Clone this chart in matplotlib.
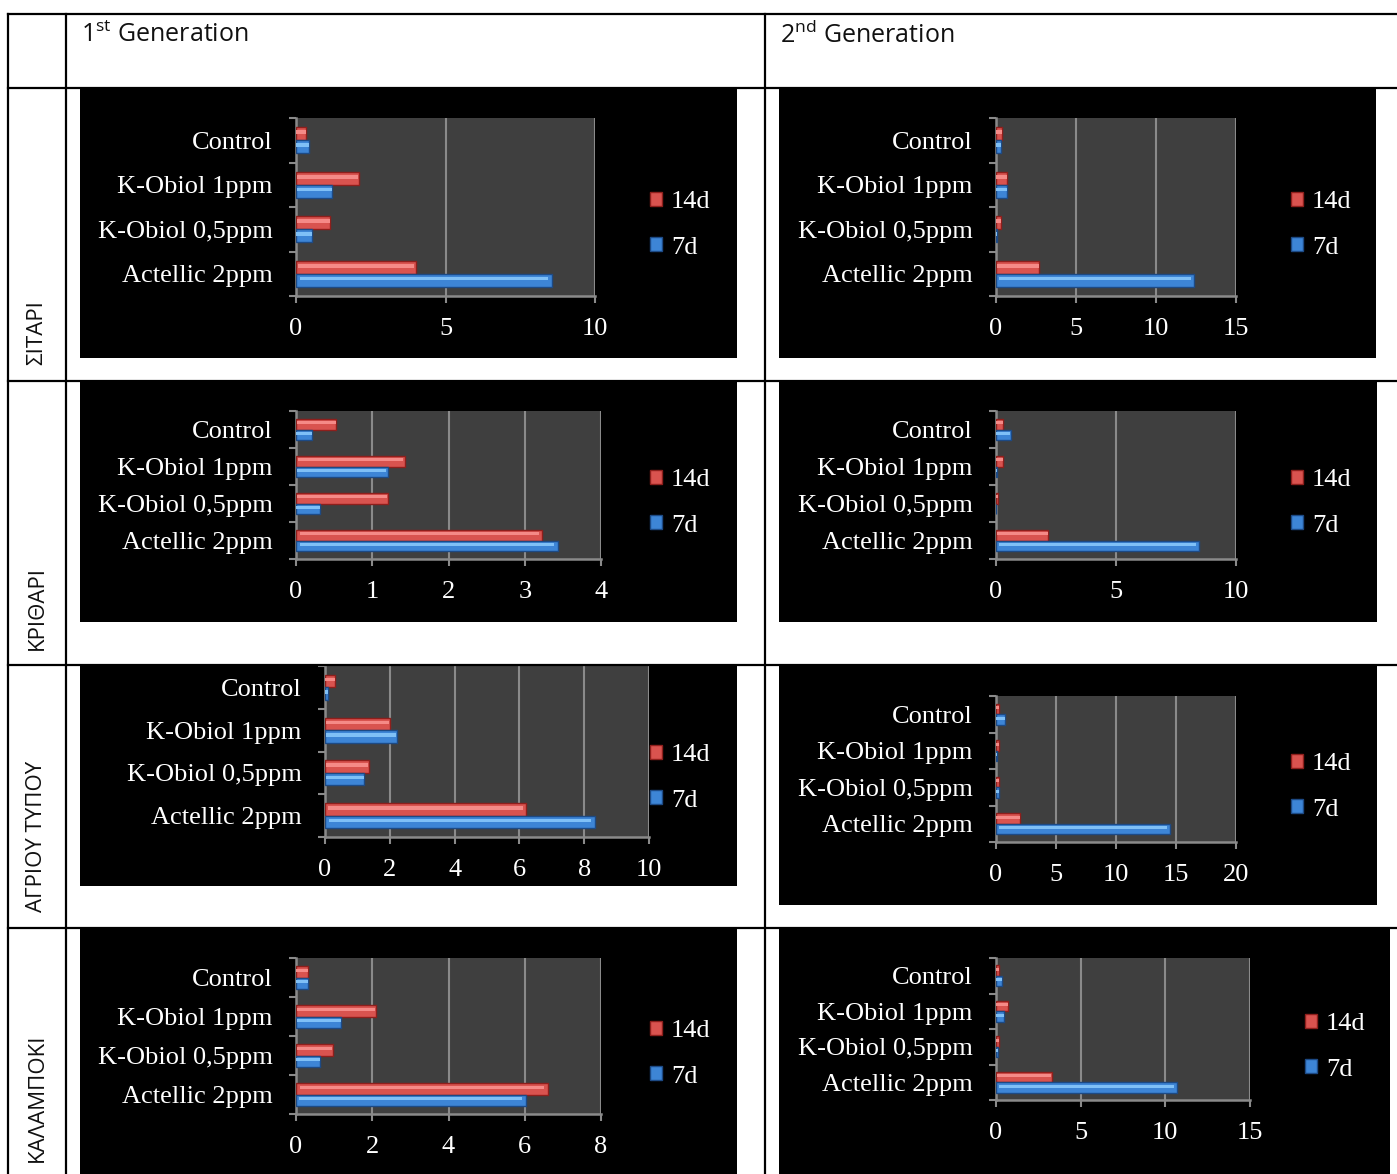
import matplotlib
matplotlib.use("Agg")
import matplotlib.pyplot as plt
from matplotlib.lines import Line2D
from matplotlib.patches import Patch

plt.rcParams["mathtext.fontset"] = "custom"
plt.rcParams["mathtext.rm"] = "Open Sans"

W, H = 1397, 1174

# ── data ──
cats = ["Control", "K-Obiol 1ppm", "K-Obiol 0,5ppm", "Actellic 2ppm"]
series = ["14d", "7d"]

sitari_g1_14d = [0.33, 2.12, 1.14, 4.0]
sitari_g1_7d = [0.45, 1.22, 0.55, 8.56]
sitari_g2_14d = [0.37, 0.67, 0.29, 2.7]
sitari_g2_7d = [0.29, 0.67, 0.05, 12.4]

krithari_g1_14d = [0.53, 1.43, 1.21, 3.23]
krithari_g1_7d = [0.21, 1.2, 0.32, 3.44]
krithari_g2_14d = [0.28, 0.28, 0.07, 2.18]
krithari_g2_7d = [0.61, 0.05, 0.0, 8.46]

agriou_g1_14d = [0.32, 2.0, 1.35, 6.2]
agriou_g1_7d = [0.08, 2.22, 1.21, 8.33]
agriou_g2_14d = [0.25, 0.25, 0.25, 2.0]
agriou_g2_7d = [0.78, 0.1, 0.28, 14.5]

kalamp_g1_14d = [0.31, 2.1, 0.96, 6.6]
kalamp_g1_7d = [0.31, 1.19, 0.64, 6.03]
kalamp_g2_14d = [0.16, 0.73, 0.16, 3.3]
kalamp_g2_7d = [0.37, 0.49, 0.14, 10.7]

row_labels = ["ΣΙΤΑΡΙ", "ΚΡΙΘΑΡΙ", "ΑΓΡΙΟΥ ΤΥΠΟΥ", "ΚΑΛΑΜΠΟΚΙ"]
col_labels = [r"1$^{\mathrm{st}}$ Generation", r"2$^{\mathrm{nd}}$ Generation"]

# ── layout in pixels: (black box), (plot area), xmax, xstep, legend pos ──
charts = [
    (sitari_g1_14d, sitari_g1_7d, (80, 88, 737, 358), (296, 118, 595, 296), 10, 5, (650, 201)),
    (sitari_g2_14d, sitari_g2_7d, (779, 88, 1376, 358), (996, 118, 1236, 296), 15, 5, (1291, 201)),
    (krithari_g1_14d, krithari_g1_7d, (80, 381, 737, 622), (296, 411, 601, 559), 4, 1, (650, 479)),
    (krithari_g2_14d, krithari_g2_7d, (779, 381, 1377, 622), (996, 411, 1236, 559), 10, 5, (1291, 479)),
    (agriou_g1_14d, agriou_g1_7d, (80, 665, 737, 886), (325, 666, 649, 837), 10, 2, (650, 754)),
    (agriou_g2_14d, agriou_g2_7d, (779, 665, 1377, 905), (996, 696, 1236, 842), 20, 5, (1291, 763)),
    (kalamp_g1_14d, kalamp_g1_7d, (80, 928, 737, 1174), (296, 958, 601, 1114), 8, 2, (650, 1030)),
    (kalamp_g2_14d, kalamp_g2_7d, (779, 928, 1390, 1174), (996, 958, 1250, 1100), 15, 5, (1305, 1023)),
]

RED, RED_LT, RED_DK = "#d9534f", "#f58a87", "#8e1f1c"
BLUE, BLUE_LT, BLUE_DK = "#3d85d6", "#7fc0f7", "#1d4a85"
GRID = "#8a8a8a"
SERIF = "Liberation Serif"
FS = 19


def fbox(x0, y0, x1, y1):
    return [x0 / W, 1 - y1 / H, (x1 - x0) / W, (y1 - y0) / H]


fig = plt.figure(figsize=(W / 100, H / 100), dpi=100)
fig.patch.set_facecolor("white")

for v14, v7, box, area, xmax, xstep, leg in charts:
    bg = fig.add_axes(fbox(*box))
    bg.set_facecolor("black")
    bg.set_xticks([])
    bg.set_yticks([])
    for s in bg.spines.values():
        s.set_visible(False)

    ax = fig.add_axes(fbox(*area))
    ax.set_facecolor("#3f3f3f")
    ypos = [3 - i for i in range(len(cats))]
    bh = 0.29
    for vals, off, c, cl, cd in [(v14, bh / 2, RED, RED_LT, RED_DK),
                                 (v7, -bh / 2, BLUE, BLUE_LT, BLUE_DK)]:
        yy = [y + off for y in ypos]
        ax.barh(yy, vals, height=bh, color=c, edgecolor=cd, linewidth=1.0, zorder=3)
        ax.barh([y + bh * 0.12 for y in yy], [v * 0.97 for v in vals], left=[v * 0.015 for v in vals],
                height=bh * 0.28, color=cl, linewidth=0, zorder=4)

    ax.set_xlim(0, xmax)
    ax.set_ylim(-0.5, 3.5)
    ax.set_xticks(range(0, xmax + 1, xstep))
    ax.set_yticks(ypos)
    ax.set_yticklabels(cats)
    ax.set_yticks([-0.5, 0.5, 1.5, 2.5, 3.5], minor=True)
    ax.grid(axis="x", color=GRID, linewidth=1.5, zorder=1)
    ax.set_axisbelow(True)
    for side in ["top", "right"]:
        ax.spines[side].set_visible(False)
    for side in ["left", "bottom"]:
        ax.spines[side].set_color(GRID)
        ax.spines[side].set_linewidth(1.8)
    ax.tick_params(axis="x", colors=GRID, length=5, width=1.5, pad=11, labelcolor="white")
    ax.tick_params(axis="y", which="major", length=0, pad=17, labelcolor="white")
    ax.tick_params(axis="y", which="minor", colors=GRID, length=5, width=1.5)
    for lab in ax.get_xticklabels() + ax.get_yticklabels():
        lab.set_fontfamily(SERIF)
        lab.set_fontsize(FS)

    handles = [Patch(facecolor=RED, edgecolor=RED_DK), Patch(facecolor=BLUE, edgecolor=BLUE_DK)]
    fig.legend(handles, series, loc="upper left",
               bbox_to_anchor=(leg[0] / W, 1 - (leg[1] - 10) / H),
               bbox_transform=fig.transFigure, frameon=False, labelcolor="white",
               prop={"family": SERIF, "size": FS}, handlelength=0.45, handleheight=0.45,
               handletextpad=0.35, labelspacing=0.9, borderpad=0, borderaxespad=0)

# ── table grid ──
def hline(y, x0=8, x1=W):
    fig.add_artist(Line2D([x0 / W, x1 / W], [1 - y / H, 1 - y / H], color="black", lw=1.6, zorder=10))


def vline(x, y0=14, y1=H):
    fig.add_artist(Line2D([x / W, x / W], [1 - y0 / H, 1 - y1 / H], color="black", lw=1.6, zorder=10))


for y in [14, 88, 381, 665, 928]:
    hline(y)
for x in [8, 66, 765]:
    vline(x)

# ── header and row labels ──
for lab, x in zip(col_labels, [81, 780]):
    fig.text(x / W, 1 - 35 / H, lab, fontsize=18, family=["Open Sans", "DejaVu Sans"],
             ha="left", va="center", color="#111111")

for lab, yb in zip(row_labels, [365, 650, 912, 1162]):
    fig.text(37 / W, 1 - yb / H, lab, rotation=90, fontsize=16, family=["Open Sans", "DejaVu Sans"],
             ha="center", va="bottom", color="#111111")

fig.savefig("out.png", dpi=100, facecolor="white")
